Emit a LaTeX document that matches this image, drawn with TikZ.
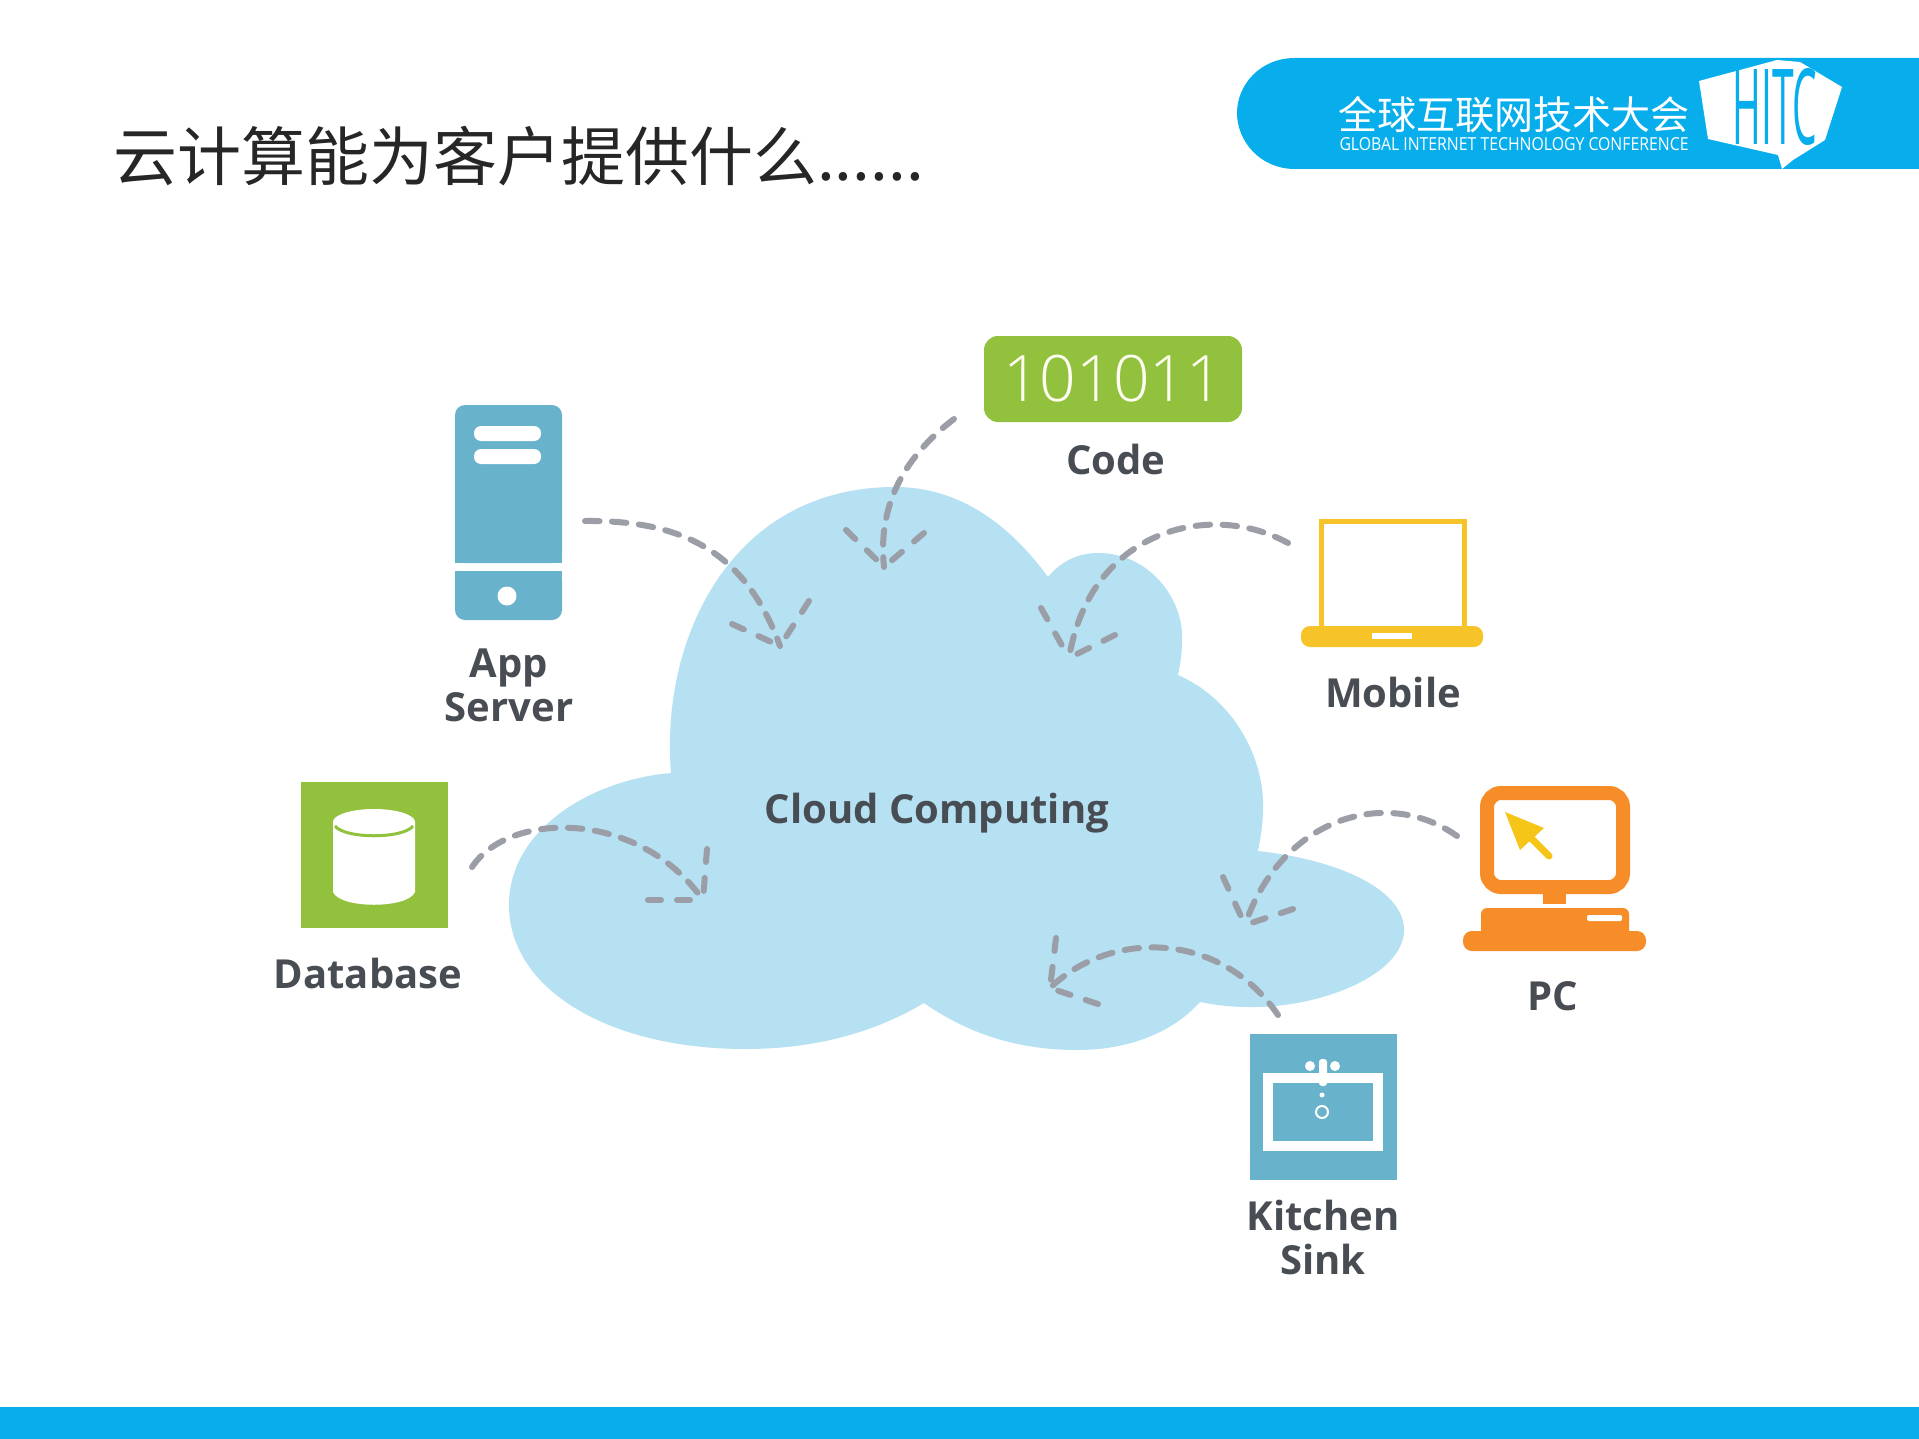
\documentclass[tikz,border=0pt]{standalone}
\usepackage{fontspec}
\usepackage{xcolor}
\usetikzlibrary{positioning, shapes.geometric, calc}
\setmainfont{Open Sans}
\newfontfamily\cjkfont{Noto Sans CJK SC}
\newfontfamily\lightfont{Open Sans Light}
\definecolor{bandblue}{RGB}{8, 174, 236}
\definecolor{cloudblue}{RGB}{181, 225, 242}
\definecolor{iconblue}{RGB}{104, 178, 204}
\definecolor{icongreen}{RGB}{146, 193, 62}
\definecolor{iconyellow}{RGB}{246, 196, 40}
\definecolor{iconorange}{RGB}{246, 141, 40}
\definecolor{cursoryellow}{RGB}{245, 197, 24}
\definecolor{dashgrey}{RGB}{155, 157, 167}
\definecolor{labelgrey}{RGB}{72, 77, 84}

\begin{document}
\begin{tikzpicture}[x=1pt, y=-1pt,
    iconlabel/.style={font=\fontsize{40}{44}\selectfont\bfseries, text=labelgrey, align=center, inner sep=0pt},
    dashline/.style={dashgrey, line width=6pt, line cap=round, dash pattern=on 14.5pt off 12.5pt},
    headline/.style={dashgrey, line width=6pt, line cap=round, dash pattern=on 13pt off 16pt}]
  \useasboundingbox (0,0) rectangle (1919,1439);
  \fill[white] (0,0) rectangle (1919,1439);

  \node[anchor=west, inner sep=0pt, font=\cjkfont\fontsize{64}{64}\selectfont, text=black!85] (title)
        at (113,156) {云计算能为客户提供什么......};

  \fill[bandblue] (1919,58) -- (1295,58) .. controls (1260,58) and (1237,85) .. (1237,113)
        .. controls (1237,141) and (1260,169) .. (1295,169) -- (1919,169) -- cycle;
  \fill[bandblue] (0,1407) rectangle (1919,1439);
  \node[inner sep=0pt, text=white, font=\cjkfont\fontsize{39}{39}\selectfont] (logotext) at (1514,115) {全球互联网技术大会};
  \node[inner sep=0pt, text=white] (logosub) at (1514,144)
        {\resizebox{349pt}{13pt}{GLOBAL INTERNET TECHNOLOGY CONFERENCE}};
  \fill[white] (1699,81) -- (1777,60) -- (1800,62) -- (1842,87) -- (1825,140) -- (1793,160)
        -- (1782,169) -- (1778,155) -- (1708,139) -- cycle;
  \node[inner sep=0pt, text=bandblue] (logoshield) at (1775,107) {\resizebox{85pt}{76pt}{HITC}};

  \fill[cloudblue] (671,773) .. controls (660,640) and (730,487) .. (895,487)
        .. controls (960,487) and (1010,525) .. (1048,577)
        .. controls (1062,560) and (1080,553) .. (1098,553)
        .. controls (1150,553) and (1184,600) .. (1182,640)
        .. controls (1182,655) and (1180,665) .. (1178,675)
        .. controls (1235,700) and (1265,760) .. (1263,810)
        .. controls (1263,825) and (1260,840) .. (1258,851)
        .. controls (1340,860) and (1404,890) .. (1404,930)
        .. controls (1404,975) and (1320,1008) .. (1250,1007)
        .. controls (1230,1007) and (1215,1005) .. (1200,1002)
        .. controls (1170,1035) and (1125,1050) .. (1077,1050)
        .. controls (1020,1050) and (970,1035) .. (924,1003)
        .. controls (870,1035) and (810,1049) .. (745,1049)
        .. controls (610,1049) and (509,990) .. (509,905)
        .. controls (509,830) and (590,780) .. (671,773) -- cycle;
  \node[iconlabel] (cloudlabel) at (937,813) {Cloud Computing};

  % server
  \fill[iconblue, rounded corners=10pt] (455,405) -- (562,405) -- (562,563) -- (455,563) -- cycle;
  \fill[iconblue, rounded corners=10pt] (455,571) -- (562,571) -- (562,620) -- (455,620) -- cycle;
  \fill[iconblue] (455,420) rectangle (562,563);
  \fill[iconblue] (455,571) rectangle (562,600);
  \foreach \y in {426,449}{
    \fill[white, rounded corners=7pt] (474,\y) rectangle (541,\y+15);
  }
  \fill[white] (507,596) circle (9.5);

  % code
  \node[fill=icongreen, rounded corners=14pt, minimum width=258pt, minimum height=86pt, inner sep=0pt,
        text=white!95!yellow, font=\lightfont\fontsize{64}{64}\selectfont] (code) at (1113,379) {101011};

  % database
  \node[fill=icongreen, minimum width=147pt, minimum height=146pt] (database) at (374.5,855) {};
  \fill[white] (333,822) -- (333,892) .. controls (340,909) and (408,909) .. (415,892) -- (415,822) -- cycle;
  \fill[white] (374,822) ellipse [x radius=41, y radius=13];
  \draw[icongreen, line width=3pt] (335,826) .. controls (345,839) and (403,839) .. (413,826);

  % mobile
  \draw[iconyellow, line width=5pt] (1321,629) -- (1321,521.5) -- (1464.5,521.5) -- (1464.5,629);
  \fill[iconyellow, rounded corners=9pt] (1301,626) rectangle (1483,647);
  \fill[white] (1372,633) rectangle (1412,639);

  % pc
  \draw[iconorange, line width=14pt, rounded corners=14pt] (1487,793) rectangle (1623,887);
  \fill[iconorange] (1543,893) rectangle (1566,904);
  \fill[iconorange, rounded corners=6pt] (1481,908) rectangle (1629,940);
  \fill[iconorange, rounded corners=9pt] (1463,931) rectangle (1646,951);
  \fill[white, rounded corners=2pt] (1587,915) rectangle (1622,921);
  \fill[cursoryellow] (1505,812) -- (1544,828) -- (1520,850) -- cycle;
  \draw[cursoryellow, line width=7pt, line cap=round] (1525,832) -- (1549,856);

  % sink
  \node[fill=iconblue, minimum width=147pt, minimum height=146pt] (sink) at (1323.5,1107) {};
  \draw[white, line width=10pt] (1268,1078) rectangle (1378,1146);
  \fill[white, rounded corners=3pt] (1319,1059) rectangle (1327,1086);
  \foreach \x in {1310,1335}{
    \fill[white] (\x,1066) circle (5);
  }
  \fill[white] (1322,1095) circle (2.5);
  \draw[white, line width=2pt] (1322,1112) circle (6);

  \foreach \name/\x/\y/\txt in {serverlabel/509/685/App\\Server, codelabel/1116/459/Code,
        databaselabel/368/973/Database, mobilelabel/1393/692/Mobile,
        pclabel/1553/996/PC, sinklabel/1323/1237/Kitchen\\Sink}{
    \node[iconlabel] (\name) at (\x,\y) {\txt};
  }

  \coordinate (serverout) at (585,521);
  \coordinate (servertip) at (780,646);
  \coordinate (codeout) at (954,419);
  \coordinate (codetip) at (884,567);
  \coordinate (mobileout) at (1288,543);
  \coordinate (mobiletip) at (1069,658);
  \coordinate (pcout) at (1457,836);
  \coordinate (pctip) at (1245,925);
  \coordinate (sinkout) at (1278,1015);
  \coordinate (sinktip) at (1050,988);
  \coordinate (databaseout) at (472,867);
  \coordinate (databasetip) at (703,900);

  \draw[dashline] (serverout) .. controls (680,520) and (745,550) .. (servertip);
  \draw[dashline] (codeout) .. controls (900,460) and (878,510) .. (codetip);
  \draw[dashline] (mobileout) .. controls (1210,500) and (1090,530) .. (mobiletip);
  \draw[dashline] (pcout) .. controls (1385,785) and (1280,820) .. (pctip);
  \draw[dashline] (sinkout) .. controls (1220,930) and (1110,930) .. (sinktip);
  \draw[dashline] (databaseout) .. controls (510,810) and (640,810) .. (databasetip);

  \foreach \tip/\ax/\ay/\bx/\by in {servertip/732/624/809/601, codetip/846/530/924/533,
        mobiletip/1041/608/1115/635, pctip/1223/877/1293/909,
        sinktip/1056/938/1098/1004, databasetip/707/849/648/900}{
    \coordinate (\tip-a) at (\ax,\ay);
    \coordinate (\tip-b) at (\bx,\by);
    \draw[headline] (\tip-a) -- (\tip);
    \draw[headline] (\tip-b) -- (\tip);
  }
\end{tikzpicture}
\end{document}
